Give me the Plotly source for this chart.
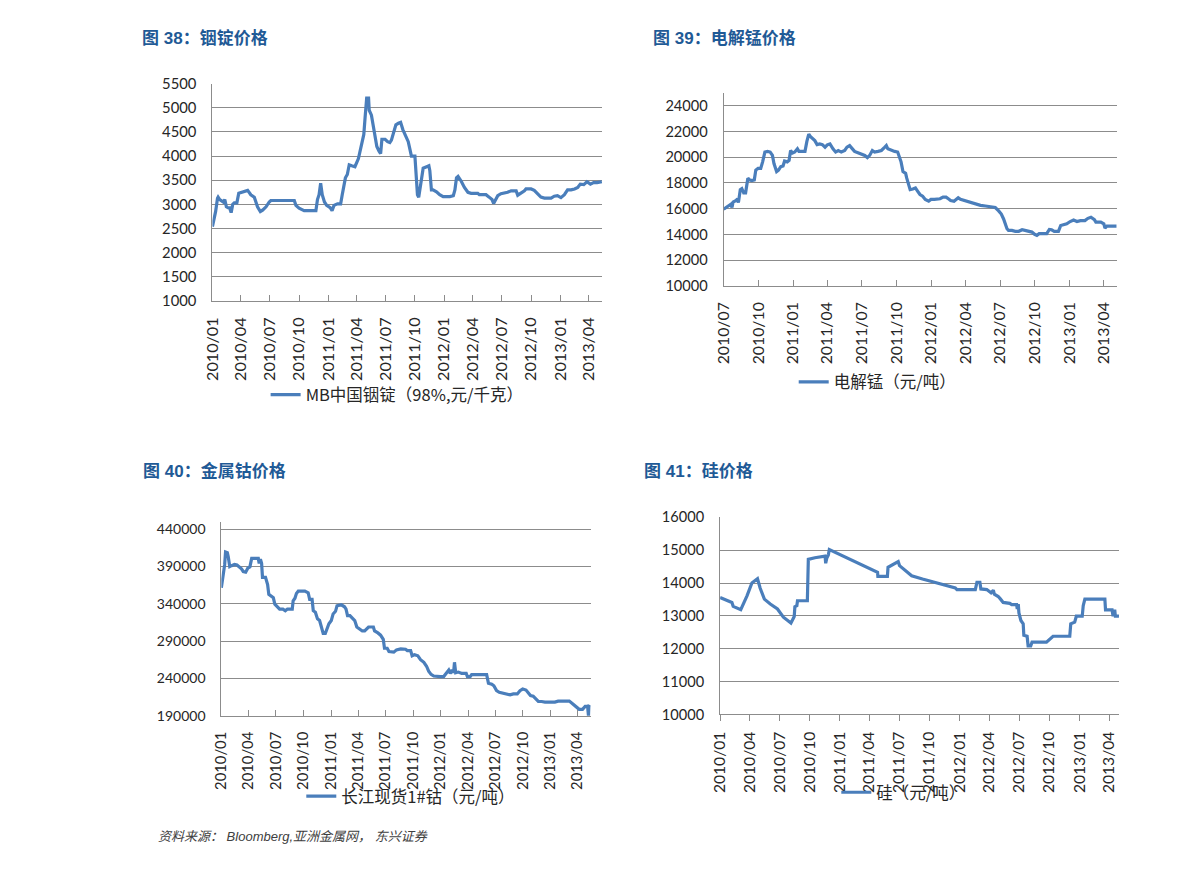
import plotly.graph_objects as go

# ---------------- data ----------------
in_dates = ["2010-01-01","2010-01-11","2010-01-17","2010-01-19","2010-01-24","2010-01-30","2010-02-04","2010-02-09",
            "2010-02-14","2010-02-19","2010-02-24","2010-03-01","2010-03-06","2010-03-11","2010-03-19","2010-03-25",
            "2010-04-07","2010-04-17","2010-04-22","2010-05-02","2010-05-13","2010-05-23","2010-06-01","2010-06-08",
            "2010-06-19","2010-06-29","2010-07-04","2010-09-16","2010-09-21","2010-10-01","2010-10-17","2010-11-23",
            "2010-11-28","2010-12-03","2010-12-08","2010-12-13","2010-12-20","2010-12-27","2011-01-07","2011-01-13",
            "2011-01-19","2011-01-30","2011-02-09","2011-02-14","2011-02-19","2011-02-24","2011-03-02","2011-03-08",
            "2011-03-16","2011-03-26","2011-04-06","2011-04-11","2011-04-16","2011-04-23","2011-04-27","2011-04-29",
            "2011-05-02","2011-05-08","2011-05-10","2011-05-17","2011-05-24","2011-06-03","2011-06-10","2011-06-15",
            "2011-06-19","2011-06-29","2011-07-07","2011-07-14","2011-07-19","2011-07-25","2011-08-02","2011-08-10",
            "2011-08-17","2011-08-24","2011-09-03","2011-09-10","2011-09-15","2011-09-20","2011-10-01","2011-10-06",
            "2011-10-09","2011-10-13","2011-10-18","2011-10-27","2011-11-07","2011-11-14","2011-11-17","2011-11-20",
            "2011-11-22","2011-11-27","2011-12-08","2011-12-18","2011-12-29","2012-01-19","2012-01-30","2012-02-04",
            "2012-02-09","2012-02-14","2012-02-24","2012-03-05","2012-03-16","2012-03-26","2012-04-16","2012-04-21",
            "2012-05-12","2012-05-22","2012-05-31","2012-06-05","2012-06-11","2012-06-18","2012-06-28","2012-07-09",
            "2012-07-19","2012-07-30","2012-08-15","2012-08-20","2012-08-31","2012-09-10","2012-09-15","2012-10-01",
            "2012-10-11","2012-10-22","2012-11-01","2012-11-12","2012-12-03","2012-12-13","2012-12-23","2013-01-03",
            "2013-01-14","2013-01-24","2013-02-04","2013-02-15","2013-02-25","2013-03-05","2013-03-16","2013-03-26",
            "2013-04-06","2013-04-16","2013-04-27","2013-05-12"]
in_vals = [2540,2850,3125,3150,3100,3080,3050,3100,
           2950,2930,2930,2830,3000,3030,3030,3230,
           3260,3290,3290,3200,3150,2950,2850,2880,
           2950,3050,3080,3080,2980,2920,2870,2870,
           3100,3200,3440,3200,3050,2980,2930,2870,
           2980,3010,3010,3200,3380,3550,3620,3820,
           3800,3780,3950,4100,4300,4450,4800,5000,
           5200,5200,4950,4850,4600,4200,4100,4050,
           4350,4350,4300,4280,4330,4450,4650,4680,
           4700,4550,4400,4300,4150,4000,4000,3600,
           3200,3150,3350,3750,3780,3800,3700,3450,
           3300,3300,3260,3200,3160,3160,3180,3300,
           3550,3580,3480,3350,3250,3230,3230,3200,
           3200,3150,3100,3020,3080,3180,3220,3230,
           3250,3280,3280,3190,3230,3280,3320,3320,
           3290,3220,3150,3130,3130,3170,3180,3140,
           3200,3300,3300,3320,3350,3420,3410,3470,
           3420,3450,3450,3470]

mn_dates = ["2010-07-01","2010-07-07","2010-07-13","2010-07-20","2010-07-23","2010-07-26","2010-08-03","2010-08-07",
            "2010-08-09","2010-08-14","2010-08-18","2010-08-23","2010-08-28","2010-09-03","2010-09-07","2010-09-13",
            "2010-09-20","2010-09-24","2010-09-30","2010-10-07","2010-10-12","2010-10-18","2010-10-25","2010-11-01",
            "2010-11-07","2010-11-11","2010-11-18","2010-11-23","2010-11-29","2010-12-05","2010-12-09","2010-12-16",
            "2010-12-21","2010-12-25","2010-12-30","2011-01-05","2011-01-12","2011-01-16","2011-01-25","2011-02-01",
            "2011-02-06","2011-02-11","2011-02-15","2011-02-19","2011-02-27","2011-03-05","2011-03-12","2011-03-19",
            "2011-03-26","2011-04-01","2011-04-08","2011-04-16","2011-04-23","2011-04-30","2011-05-08","2011-05-17",
            "2011-05-23","2011-05-30","2011-06-06","2011-06-12","2011-06-21","2011-06-30","2011-07-09","2011-07-16",
            "2011-07-22","2011-07-29","2011-08-04","2011-08-13","2011-08-22","2011-08-31","2011-09-04","2011-09-08",
            "2011-09-17","2011-09-26","2011-10-04","2011-10-09","2011-10-13","2011-10-18","2011-10-25","2011-10-28",
            "2011-11-03","2011-11-06","2011-11-13","2011-11-20","2011-11-26","2011-12-02","2011-12-09","2011-12-16",
            "2011-12-25","2011-12-31","2012-01-09","2012-01-18","2012-01-24","2012-02-01","2012-02-09","2012-02-15",
            "2012-02-21","2012-03-01","2012-03-07","2012-03-12","2012-03-18","2012-03-27","2012-04-05","2012-04-13",
            "2012-04-22","2012-05-01","2012-05-10","2012-05-23","2012-06-05","2012-06-18","2012-06-27","2012-07-04",
            "2012-07-10","2012-07-14","2012-07-19","2012-07-23","2012-08-01","2012-08-10","2012-08-19","2012-08-28",
            "2012-09-06","2012-09-14","2012-09-23","2012-09-30","2012-10-06","2012-10-12","2012-10-24","2012-11-01",
            "2012-11-08","2012-11-14","2012-11-21","2012-12-02","2012-12-08","2012-12-15","2012-12-24","2013-01-02",
            "2013-01-11","2013-01-20","2013-01-29","2013-02-10","2013-02-18","2013-02-26","2013-03-07","2013-03-11",
            "2013-03-24","2013-04-01","2013-04-04","2013-04-09","2013-04-20","2013-05-05"]
mn_vals = [15960,16090,16260,16340,16090,16520,16640,16770,
           16470,17480,17560,17230,17230,18370,18240,18190,
           18240,19000,19130,19130,19640,20400,20450,20400,
           20140,19510,18880,19000,19260,19310,19710,19640,
           19760,20520,20320,20400,20650,20450,20450,20450,
           21230,21790,21610,21490,21290,20980,21030,20980,
           20780,20960,21030,20650,20400,20520,20400,20520,
           20780,20900,20650,20450,20350,20220,20140,19970,
           20140,20520,20400,20450,20520,20780,20900,20650,
           20520,20450,20400,20020,19640,18880,18750,18370,
           17610,17480,17530,17610,17350,17100,16970,16720,
           16590,16720,16720,16720,16770,16900,16900,16770,
           16640,16570,16720,16850,16720,16640,16590,16540,
           16470,16340,16260,16210,16160,16090,15830,15580,
           15200,14820,14440,14310,14310,14240,14240,14360,
           14310,14240,14180,14010,13930,14060,14060,14060,
           14390,14360,14240,14240,14690,14740,14820,15000,
           15120,15000,15070,15070,15250,15330,15150,14950,
           14950,14820,14490,14640,14640,14640]

co_dates = ["2010-01-01","2010-01-06","2010-01-12","2010-01-15","2010-01-21","2010-01-24","2010-01-29","2010-02-04",
            "2010-02-14","2010-02-22","2010-03-01","2010-03-09","2010-03-15","2010-03-23","2010-03-30","2010-04-06",
            "2010-04-12","2010-04-20","2010-05-04","2010-05-07","2010-05-11","2010-05-15","2010-05-18","2010-05-28",
            "2010-06-04","2010-06-08","2010-06-17","2010-06-23","2010-06-28","2010-07-07","2010-07-14","2010-07-25",
            "2010-08-02","2010-08-09","2010-08-25","2010-08-28","2010-09-03","2010-09-08","2010-09-14","2010-09-25",
            "2010-10-06","2010-10-17","2010-10-22","2010-10-30","2010-11-03","2010-11-10","2010-11-17","2010-11-24",
            "2010-12-02","2010-12-06","2010-12-13","2010-12-20","2010-12-25","2011-01-02","2011-01-08","2011-01-16",
            "2011-01-21","2011-02-04","2011-02-15","2011-02-20","2011-02-25","2011-03-05","2011-03-13","2011-03-21",
            "2011-03-28","2011-04-04","2011-04-15","2011-04-23","2011-04-30","2011-05-06","2011-05-22","2011-05-26",
            "2011-06-06","2011-06-15","2011-06-24","2011-06-28","2011-07-07","2011-07-13","2011-07-29","2011-08-07",
            "2011-08-21","2011-09-06","2011-09-12","2011-09-23","2011-09-28","2011-10-06","2011-10-17","2011-10-26",
            "2011-11-06","2011-11-15","2011-11-22","2011-11-30","2011-12-09","2011-12-20","2011-12-31","2012-01-11",
            "2012-01-20","2012-01-28","2012-02-02","2012-02-08","2012-02-13","2012-02-16","2012-02-20","2012-02-29",
            "2012-03-11","2012-03-26","2012-03-30","2012-04-08","2012-04-13","2012-04-30","2012-05-16","2012-06-02",
            "2012-06-08","2012-06-19","2012-06-26","2012-07-05","2012-07-14","2012-07-27","2012-08-08","2012-08-19",
            "2012-08-30","2012-09-12","2012-09-21","2012-09-30","2012-10-11","2012-10-18","2012-10-26","2012-11-04",
            "2012-11-13","2012-11-21","2012-12-02","2012-12-13","2012-12-30","2013-01-15","2013-01-26","2013-02-11",
            "2013-03-04","2013-03-15","2013-03-26","2013-04-06","2013-04-17","2013-04-26","2013-05-04","2013-05-07",
            "2013-05-09","2013-05-14"]
co_vals = [361300,374500,392000,409400,408500,402900,389800,391000,
           392800,392000,389800,386700,383200,382300,387600,389300,
           400700,400700,400700,394100,399800,394100,375300,375300,
           365700,352600,350400,348200,339500,336000,332900,332900,
           330700,332900,332900,343900,347400,353900,357000,357000,
           357000,354800,346000,346000,330700,328600,319800,317600,
           306700,300200,300200,306700,313300,317600,326400,329900,
           337300,338600,336000,332900,324200,324200,321100,317600,
           308900,306700,303600,303600,306700,308900,308900,303600,
           301000,298000,292300,280500,280500,276100,275200,278300,
           279600,279200,277400,277400,270400,271700,270400,265200,
           261700,256400,249900,245500,243300,242500,242500,242500,
           247700,251200,246800,251200,247700,261700,247700,248600,
           246800,246800,242500,242500,245100,245100,245100,245100,
           233700,232400,230200,223700,221500,220600,219300,218000,
           219300,219300,223700,225800,224500,220600,217100,216200,
           211900,209200,209200,208400,208400,208400,209700,209700,
           209700,206200,201800,198700,198700,202700,202700,190000,
           202700,201800]

si_dates = ["2010-01-01","2010-01-14","2010-01-29","2010-02-06","2010-02-10","2010-02-22","2010-03-05","2010-03-24",
            "2010-04-08","2010-04-25","2010-05-03","2010-05-16","2010-06-03","2010-06-25","2010-07-13","2010-08-05",
            "2010-08-15","2010-08-17","2010-08-23","2010-08-25","2010-09-24","2010-09-27","2010-10-17","2010-11-17",
            "2010-11-19","2010-11-22","2010-11-27","2010-11-30","2011-04-26","2011-04-27","2011-05-26","2011-05-28",
            "2011-06-20","2011-06-28","2011-07-02","2011-08-08","2011-09-10","2011-12-19","2011-12-24","2012-02-18",
            "2012-02-23","2012-03-03","2012-03-06","2012-03-24","2012-04-06","2012-04-13","2012-04-16","2012-04-28",
            "2012-05-05","2012-05-13","2012-06-02","2012-06-08","2012-06-23","2012-06-25","2012-06-28","2012-06-30",
            "2012-07-06","2012-07-13","2012-07-15","2012-07-25","2012-07-28","2012-08-05","2012-08-09","2012-09-22",
            "2012-10-12","2012-12-02","2012-12-05","2012-12-17","2012-12-22","2013-01-09","2013-01-12","2013-01-17",
            "2013-03-19","2013-03-21","2013-04-10","2013-04-13","2013-04-18","2013-04-20","2013-05-01"]
si_vals = [13560,13510,13440,13410,13290,13240,13190,13610,
           14000,14130,13850,13510,13360,13210,12960,12780,
           12980,13280,13310,13460,13460,14720,14770,14820,
           14600,14750,14850,15020,14330,14200,14200,14480,
           14620,14650,14530,14220,14120,13850,13800,13800,
           14020,14020,13820,13800,13700,13780,13660,13590,
           13510,13410,13380,13340,13340,13210,13360,13090,
           12860,12760,12410,12380,12090,12090,12200,12200,
           12380,12380,12760,12810,12990,12990,13310,13510,
           13510,13180,13180,12990,13190,12990,12990]

titles = ["图 38：铟锭价格", "图 39：电解锰价格", "图 40：金属钴价格", "图 41：硅价格"]
legend_names = ["MB中国铟锭（98%,元/千克）", "电解锰（元/吨）", "长江现货1#钴（元/吨）", "硅（元/吨）"]
source_text = "资料来源： Bloomberg,亚洲金属网， 东兴证券"

# ---------------- layout helpers ----------------
W, H = 1191, 872
LINE = "#4A7EBB"
GRID = "#8C8C8C"
TXT = "#262626"
TFONT = "Lato, 'Noto Sans CJK SC', sans-serif"
CJK = "'Noto Sans CJK SC', Lato, sans-serif"

def xd(px0, px1):
    return [px0 / W, px1 / W]

def yd(top, bottom):
    return [1 - bottom / H, 1 - top / H]

panels = [
    dict(box=(203.3, 75.3, 597, 297), xr=["2010-01-01", "2013-05-14"], t0="2010-01-01",
         yr=[1000, 5500], dy=500, ticks="inside", leg=(257, 393), title=(130, 29), xf=16.2, yf=14.8),
    dict(box=(719.3, 84.6, 1116, 281.7), xr=["2010-07-01", "2013-05-05"], t0="2010-07-01",
         yr=[10000, 25000], dy=2000, ticks="inside", leg=(790, 380), title=(646, 29), xf=15.8, yf=14.6),
    dict(box=(212.3, 522.4, 585, 720.7), xr=["2010-01-01", "2013-05-14"], t0="2010-01-01",
         yr=[190000, 450000], dy=50000, ticks="inside", leg=(293, 803), title=(131, 471), xf=14.8, yf=14.0),
    dict(box=(715.7, 518, 1118.3, 719.3), xr=["2010-01-01", "2013-05-01"], t0="2010-01-01",
         yr=[10000, 16000], dy=1000, ticks="outside", leg=(833, 799), title=(637, 471), xf=15.6, yf=14.6),
]
series = [(in_dates, in_vals), (mn_dates, mn_vals), (co_dates, co_vals), (si_dates, si_vals)]

fig = go.Figure()
layout = dict(width=W, height=H, autosize=False, margin=dict(l=0, r=0, t=0, b=0),
              paper_bgcolor="white", plot_bgcolor="white", showlegend=True,
              font=dict(family=TFONT, color=TXT, size=16))
annotations = []

for i, (p, (dx, dv)) in enumerate(zip(panels, series)):
    n = "" if i == 0 else str(i + 1)
    x0, y0, x1, y1 = p["box"]
    legname = "legend" if i == 0 else f"legend{i + 1}"
    fig.add_trace(go.Scatter(x=dx, y=dv, mode="lines", name=legend_names[i],
                             line=dict(color=LINE, width=3.2),
                             xaxis="x" + n, yaxis="y" + n, legend=legname,
                             hoverinfo="x+y"))
    layout["xaxis" + n] = dict(domain=xd(x0, x1), anchor="y" + n, type="date",
                               range=p["xr"], tick0=p["t0"], dtick="M3", tickformat="%Y/%m",
                               tickangle=-90, ticks=p["ticks"], ticklen=6, tickcolor=GRID,
                               showline=True, linecolor=GRID, linewidth=1, showgrid=False,
                               zeroline=False, ticklabelstandoff=(4 if p["ticks"] == "outside" else 9),
                               tickfont=dict(family=TFONT, size=p["xf"], color=TXT))
    layout["yaxis" + n] = dict(domain=yd(y0, y1), anchor="x" + n, range=p["yr"],
                               tick0=p["yr"][0], dtick=p["dy"], tickformat="d",
                               showline=True, linecolor=GRID, linewidth=1,
                               showgrid=True, gridcolor=GRID, gridwidth=1, zeroline=False,
                               ticks="", ticklabelstandoff=12,
                               tickfont=dict(family=TFONT, size=p["yf"], color=TXT))
    lx, ly = p["leg"]
    layout[legname] = dict(x=lx / W, y=1 - ly / H, xanchor="left", yanchor="middle",
                           bgcolor="rgba(0,0,0,0)", borderwidth=0,
                           font=dict(family=CJK, size=16.5, color=TXT),
                           itemwidth=30)
    tx, ty = p["title"]
    annotations.append(dict(text="<b>" + titles[i] + "</b>", x=tx / W, y=1 - ty / H,
                            xref="paper", yref="paper", xanchor="left", yanchor="middle",
                            showarrow=False,
                            font=dict(family="'Liberation Sans', 'Noto Sans CJK SC', sans-serif",
                                      size=17, color="#1F5A96")))

annotations.append(dict(text=source_text, x=146 / W, y=1 - 844 / H, xref="paper", yref="paper",
                        xanchor="left", yanchor="middle", showarrow=False,
                        font=dict(family="'Liberation Sans', 'Noto Sans CJK SC', sans-serif",
                                  size=13, color="#404040", style="italic")))
layout["annotations"] = annotations

fig.update_layout(**layout)
fig.write_html("out.html", config={"displayModeBar": False},
               post_script="document.body.style.margin='0';document.body.style.overflow='hidden';")
